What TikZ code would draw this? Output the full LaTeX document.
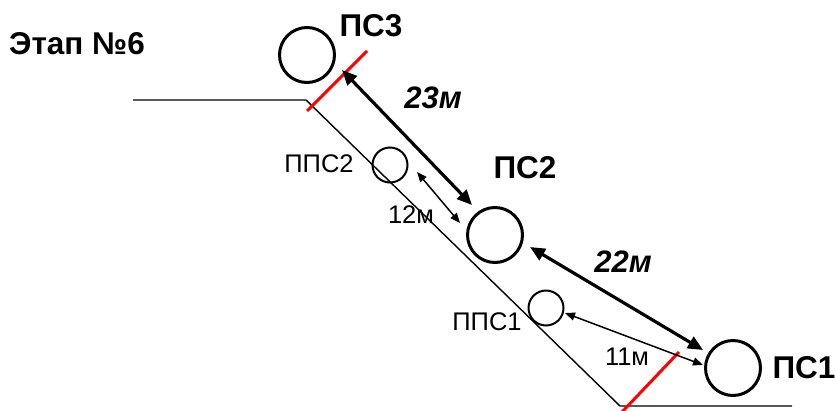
\documentclass[tikz,border=0pt]{standalone}
\usepackage{fontspec}
\setmainfont{Liberation Sans}
\usetikzlibrary{arrows.meta}
\begin{document}
\begin{tikzpicture}[x=1pt,y=-1pt,
  bigpc/.style={circle,draw,line width=3pt,minimum size=55pt,inner sep=0pt},
  smallpc/.style={circle,draw,line width=2pt,minimum size=35pt,inner sep=0pt},
  ground/.style={line width=1.4pt},
  redline/.style={red,line width=3pt},
  thickarr/.style={line width=3.2pt,{Triangle[length=15pt,width=13pt]}-{Triangle[length=15pt,width=13pt]}},
  thinarr/.style={line width=1.5pt,{Triangle[length=10pt,width=8pt]}-{Triangle[length=10pt,width=8pt]}},
  boldlab/.style={font=\fontsize{31.5}{37}\selectfont\bfseries,inner sep=0pt},
  bilab/.style={font=\fontsize{31}{37}\selectfont\bfseries\itshape,inner sep=0pt},
  reglab/.style={font=\fontsize{25.5}{30}\selectfont,inner sep=0pt}]
\useasboundingbox (0,0) rectangle (835,410);
% ground profile
\coordinate (g1) at (133,100);
\coordinate (g2) at (306,100);
\coordinate (g3) at (620,406);
\coordinate (g4) at (792,406);
\draw[ground] (g1) -- (g2) -- (g3) -- (g4);
% red lines
\coordinate (r1a) at (307,111);
\coordinate (r1b) at (367,51);
\coordinate (r2a) at (679,352);
\coordinate (r2b) at (622,412);
\draw[redline] (r1a) -- (r1b);
\draw[redline] (r2a) -- (r2b);
% circles
\node[bigpc] (ps3) at (307,55) {};
\node[smallpc] (pps2) at (390,165) {};
\node[bigpc] (ps2) at (495,235) {};
\node[smallpc] (pps1) at (546,308) {};
\node[bigpc] (ps1) at (733,368) {};
% arrows
\coordinate (a23s) at (342,70);
\coordinate (a23e) at (472,205);
\coordinate (a22s) at (530,247);
\coordinate (a22e) at (703,350);
\coordinate (a12s) at (417,172);
\coordinate (a12e) at (460,223);
\coordinate (a11s) at (565,313);
\coordinate (a11e) at (703,365);
\draw[thickarr] (a23s) -- (a23e);
\draw[thickarr] (a22s) -- (a22e);
\draw[thinarr] (a12s) -- (a12e);
\draw[thinarr] (a11s) -- (a11e);
% labels
\node[boldlab] (t0) at (77,44) {Этап №6};
\node[boldlab] (t3) at (371,26) {ПС3};
\node[boldlab] (t2) at (525,168) {ПС2};
\node[boldlab] (t1) at (804,368) {ПС1};
\node[bilab] (d23) at (433,98) {23м};
\node[bilab] (d22) at (623,262) {22м};
\node[reglab] (tp2) at (319,164) {ППС2};
\node[reglab] (tp1) at (487,322) {ППС1};
\node[reglab] (d12) at (411,215) {12м};
\node[reglab] (d11) at (627,357) {11м};
\end{tikzpicture}
\end{document}
